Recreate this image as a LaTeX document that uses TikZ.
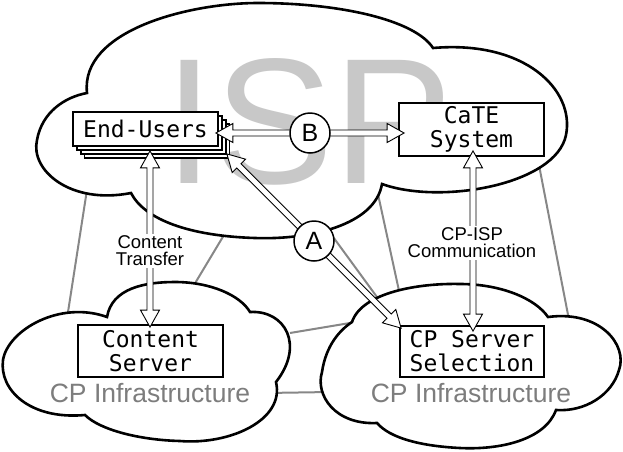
\documentclass[tikz,border=0pt]{standalone}
\usepackage{fontspec}
\setmainfont{Liberation Sans}
\setmonofont{DejaVu Sans Mono}
\usetikzlibrary{calc,shadows}
\definecolor{ispgray}{RGB}{200,200,200}
\definecolor{cpgray}{RGB}{125,125,125}
\definecolor{linkgray}{RGB}{135,135,135}

% hollow double-headed arrow between two named coordinates
\newcommand\dblarrow[2]{%
 \path[hollow] (#1)
 -- ($(#1)!17pt!(#2)!9.5pt!90:(#2)$)
 -- ($(#1)!17pt!(#2)!3pt!90:(#2)$)
 -- ($(#2)!17pt!(#1)!3pt!-90:(#1)$)
 -- ($(#2)!17pt!(#1)!9.5pt!-90:(#1)$)
 -- (#2)
 -- ($(#2)!17pt!(#1)!9.5pt!90:(#1)$)
 -- ($(#2)!17pt!(#1)!3pt!90:(#1)$)
 -- ($(#1)!17pt!(#2)!3pt!-90:(#2)$)
 -- ($(#1)!17pt!(#2)!9.5pt!-90:(#2)$)
 -- cycle;}

\begin{document}
\begin{tikzpicture}[x=1pt,y=-1pt,
  cloudline/.style={draw=black, fill=white, line width=2.6pt},
  link/.style={draw=linkgray, line width=2pt},
  box/.style={draw=black, fill=white, line width=1.8pt,
    font=\fontsize{23}{24}\selectfont\ttfamily, align=center,
    minimum width=145pt, inner sep=1pt},
  badge/.style={circle, draw=black, fill=white, line width=1.5pt,
    minimum size=40pt, inner sep=0pt, font=\fontsize{25}{25}\selectfont},
  lbl/.style={fill=white, inner sep=1.5pt, align=center,
    font=\fontsize{18.5}{17}\selectfont},
  cplbl/.style={text=cpgray, font=\fontsize{26.5}{26.5}\selectfont, anchor=base},
  hollow/.style={draw=black, fill=white, line width=0.9pt}]

\useasboundingbox (0,0) rectangle (623,451);

% gray links (behind the clouds)
\coordinate (l1a) at (88.5,180);  \coordinate (l1b) at (66,325);
\coordinate (l2a) at (227,230);   \coordinate (l2b) at (191,290);
\coordinate (l3a) at (328,230);   \coordinate (l3b) at (385,308);
\coordinate (l4a) at (376,185);   \coordinate (l4b) at (401,300);
\coordinate (l5a) at (538,160);   \coordinate (l5b) at (570,325);
\coordinate (l6a) at (290,333);   \coordinate (l6b) at (362,321);
\coordinate (l7a) at (265,393);   \coordinate (l7b) at (330,392);
\foreach \k in {1,...,7} \draw[link] (l\k a) -- (l\k b);

% ISP cloud
\path[cloudline] (87,93) .. controls (80,30) and (190,3) .. (258,3)
  .. controls (340,3) and (415,20) .. (433,48)
  .. controls (525,40) and (575,90) .. (566,135)
  .. controls (556,185) and (440,205) .. (382,184)
  .. controls (375,225) and (310,240) .. (255,238)
  .. controls (190,236) and (145,220) .. (131,193)
  .. controls (70,205) and (30,170) .. (37,140)
  .. controls (42,112) and (65,97) .. (87,93) -- cycle;

% left CP cloud
\path[cloudline] (107,317) .. controls (112,288) and (145,282) .. (175,282)
  .. controls (210,282) and (240,295) .. (250,312)
  .. controls (285,310) and (305,345) .. (276,382)
  .. controls (285,420) and (230,445) .. (180,441)
  .. controls (140,440) and (100,430) .. (85,415)
  .. controls (30,420) and (-1,390) .. (3,360)
  .. controls (8,330) and (60,300) .. (107,317) -- cycle;

% right CP cloud
\path[cloudline] (352,322) .. controls (362,292) and (420,283) .. (460,284)
  .. controls (500,284) and (535,298) .. (548,317)
  .. controls (600,310) and (628,345) .. (619,370)
  .. controls (612,395) and (585,412) .. (556,410)
  .. controls (545,440) and (500,450) .. (460,448)
  .. controls (420,446) and (390,438) .. (377,423)
  .. controls (335,425) and (315,395) .. (322,372)
  .. controls (326,345) and (340,330) .. (352,322) -- cycle;

% background texts
\node[anchor=base, text=ispgray, inner sep=0pt,
  font=\fontsize{179}{179}\selectfont] (isptext) at (309,183) {ISP};
\node[cplbl] (cpl) at (150,402) {CP Infrastructure};
\node[cplbl] (cpr) at (471,402) {CP Infrastructure};

% boxes
\node[box, minimum height=34pt,
  copy shadow={shadow xshift=11.4pt, shadow yshift=-12pt},
  double copy shadow={shadow xshift=3.8pt, shadow yshift=-4pt}]
  (eu) at (145.5,129) {End-Users};
\node[box, minimum height=53pt] (cate) at (471.5,129.5) {CaTE\\System};
\node[box, minimum height=52pt] (cs) at (150.5,351) {Content\\Server};
\node[box, minimum height=51pt, minimum width=144pt] (cpss) at (472,351.5) {CP Server\\Selection};

% arrow end points
\coordinate (bL) at ($(eu.east)+(-3,4)$);
\coordinate (bR) at ($(cate.west)+(6,3.5)$);
\coordinate (aT) at ($(eu.south east)+(8,7)$);
\coordinate (aB) at ($(cpss.north west)+(2,3)$);
\coordinate (ctT) at ($(eu.south)+(4.5,4)$);
\coordinate (ctB) at ($(cs.north)+(-0.5,3)$);
\coordinate (ciT) at ($(cate.south)+(1.5,-6)$);
\coordinate (ciB) at ($(cpss.north)+(1,6)$);

\dblarrow{bL}{bR}
\dblarrow{aT}{aB}
\dblarrow{ctT}{ctB}
\dblarrow{ciT}{ciB}

% badges
\node[badge] (circB) at (310,133) {B};
\node[badge] (circA) at (314,241) {A};

% labels
\node[lbl] (ctlabel) at (150,251) {Content\\Transfer};
\node[lbl] (cilabel) at (472,243) {CP-ISP\\Communication};
\end{tikzpicture}
\end{document}
